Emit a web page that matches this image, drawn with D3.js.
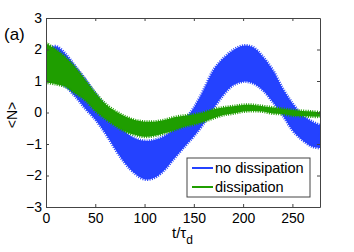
<!DOCTYPE html>
<html>
<head>
<meta charset="utf-8">
<script src="https://cdn.jsdelivr.net/npm/d3@7"></script>
<style>
  body { margin: 0; background: #fff; }
  svg text { font-family: "Liberation Sans", Arial, sans-serif; fill: #000; }
</style>
</head>
<body>
<svg id="chart" width="354" height="252"></svg>
<script>
// values: envelope of the fast oscillation
var times = [0, 10, 20, 30, 40, 50, 60, 70, 80, 90, 100, 110, 120, 130, 140,
  150, 160, 170, 180, 190, 200, 210, 220, 230, 240, 250, 260, 270, 278];

var noDissHigh = [2.0, 2.1, 1.85, 1.45, 1.05, 0.6, 0.2, -0.25, -0.6, -0.82, -0.9,
  -0.87, -0.75, -0.55, -0.25, 0.15, 0.72, 1.35, 1.72, 1.98, 2.12, 2.07, 1.77,
  1.35, 0.77, 0.29, -0.08, -0.29, -0.4];
var noDissLow = [1.1, 1.0, 0.82, 0.5, 0.12, -0.22, -0.65, -1.15, -1.6, -1.93, -2.12,
  -2.07, -1.83, -1.46, -1.1, -0.75, -0.35, 0.13, 0.56, 0.87, 0.98, 0.93, 0.71,
  0.34, -0.08, -0.56, -0.87, -1.08, -1.13];

var dissHigh = [2.2, 2.0, 1.75, 1.42, 1.02, 0.62, 0.28, 0.05, -0.12, -0.24, -0.29,
  -0.29, -0.24, -0.15, -0.1, -0.06, 0.0, 0.1, 0.16, 0.2, 0.24, 0.24, 0.2, 0.16,
  0.12, 0.08, 0.05, 0.03, 0.0];
var dissLow = [0.95, 0.9, 0.82, 0.6, 0.38, 0.05, -0.2, -0.42, -0.6, -0.71, -0.77,
  -0.74, -0.66, -0.56, -0.45, -0.38, -0.29, -0.18, -0.08, -0.03, 0.03, 0.05,
  0.03, -0.03, -0.05, -0.1, -0.11, -0.13, -0.13];

var xTicks = [0, 50, 100, 150, 200, 250];
var yTicks = [-3, -2, -1, 0, 1, 2, 3];
var seriesNames = ['no dissipation', 'dissipation'];
var seriesColors = ['#2442ff', '#1f9e00'];

var margin = { top: 18, right: 34, bottom: 45, left: 46 };
var width = 354 - margin.left - margin.right;
var height = 252 - margin.top - margin.bottom;

var svg = d3.select('svg#chart');
var g = svg.append('g')
  .attr('transform', 'translate(' + margin.left + ',' + margin.top + ')');

var x = d3.scaleLinear().domain([0, 278]).range([0, width]);
var y = d3.scaleLinear().domain([-3, 3]).range([height, 0]);

var bands = [
  times.map((t, i) => ({ t: t, hi: noDissHigh[i], lo: noDissLow[i] })),
  times.map((t, i) => ({ t: t, hi: dissHigh[i], lo: dissLow[i] }))
];

var area = d3.area()
  .curve(d3.curveCatmullRom)
  .x(d => x(d.t))
  .y0(d => y(d.lo))
  .y1(d => y(d.hi));

g.append('defs').append('clipPath').attr('id', 'clip')
  .append('rect').attr('width', width).attr('height', height);

var plot = g.append('g').attr('clip-path', 'url(#clip)');

bands.forEach(function(band, i) {
  plot.append('path')
    .attr('d', area(band))
    .style('fill', seriesColors[i])
    .style('stroke', 'none');
  // ragged edge of the fast oscillation
  plot.append('path')
    .attr('d', area(band))
    .style('fill', 'none')
    .style('stroke', seriesColors[i])
    .style('stroke-width', 3)
    .style('stroke-dasharray', '1 1.3');
});

// axes, ticks inside, box around
var axisColor = '#444';
g.append('g')
  .attr('transform', 'translate(0,' + height + ')')
  .call(d3.axisBottom(x).tickValues(xTicks).tickSizeInner(-3).tickSizeOuter(0).tickPadding(6));
g.append('g')
  .call(d3.axisLeft(y).tickValues(yTicks).tickSizeInner(-3).tickSizeOuter(0).tickPadding(4)
    .tickFormat(d => (d < 0 ? '\u2212' + Math.abs(d) : d)));
g.append('g')
  .call(d3.axisTop(x).tickValues(xTicks).tickSizeInner(-3).tickSizeOuter(0).tickFormat(''));
g.append('g')
  .attr('transform', 'translate(' + width + ',0)')
  .call(d3.axisRight(y).tickValues(yTicks).tickSizeInner(-3).tickSizeOuter(0).tickFormat(''));

g.selectAll('.domain, .tick line').style('stroke', axisColor);
g.selectAll('.tick text').style('font-size', '14px').style('fill', '#000');
g.selectAll('.domain').style('stroke-width', 1);

// legend
var legend = g.append('g').attr('transform', 'translate(' + (187 - margin.left) + ',' + (158 - margin.top) + ')');
legend.append('rect')
  .attr('width', 123).attr('height', 39)
  .style('fill', '#fff').style('stroke', axisColor).style('stroke-width', 1);
seriesNames.forEach(function(name, i) {
  var row = legend.append('g').attr('transform', 'translate(0,' + (10 + i * 19) + ')');
  row.append('line')
    .attr('x1', 5).attr('x2', 26).attr('y1', 0).attr('y2', 0)
    .style('stroke', seriesColors[i]).style('stroke-width', 2);
  row.append('text')
    .attr('x', 28).attr('y', 5)
    .style('font-size', '14.5px')
    .text(name);
});

// labels
svg.append('text')
  .attr('x', 4).attr('y', 40)
  .style('font-size', '17px')
  .text('(a)');

svg.append('text')
  .attr('transform', 'translate(17,115) rotate(-90)')
  .attr('text-anchor', 'middle')
  .style('font-size', '14px')
  .text('<N>');

var xl = svg.append('text')
  .attr('x', 172).attr('y', 238)
  .style('font-size', '15px');
xl.append('tspan').text('t/\u03c4');
xl.append('tspan').attr('dy', 6).style('font-size', '12px').text('d');
</script>
</body>
</html>
